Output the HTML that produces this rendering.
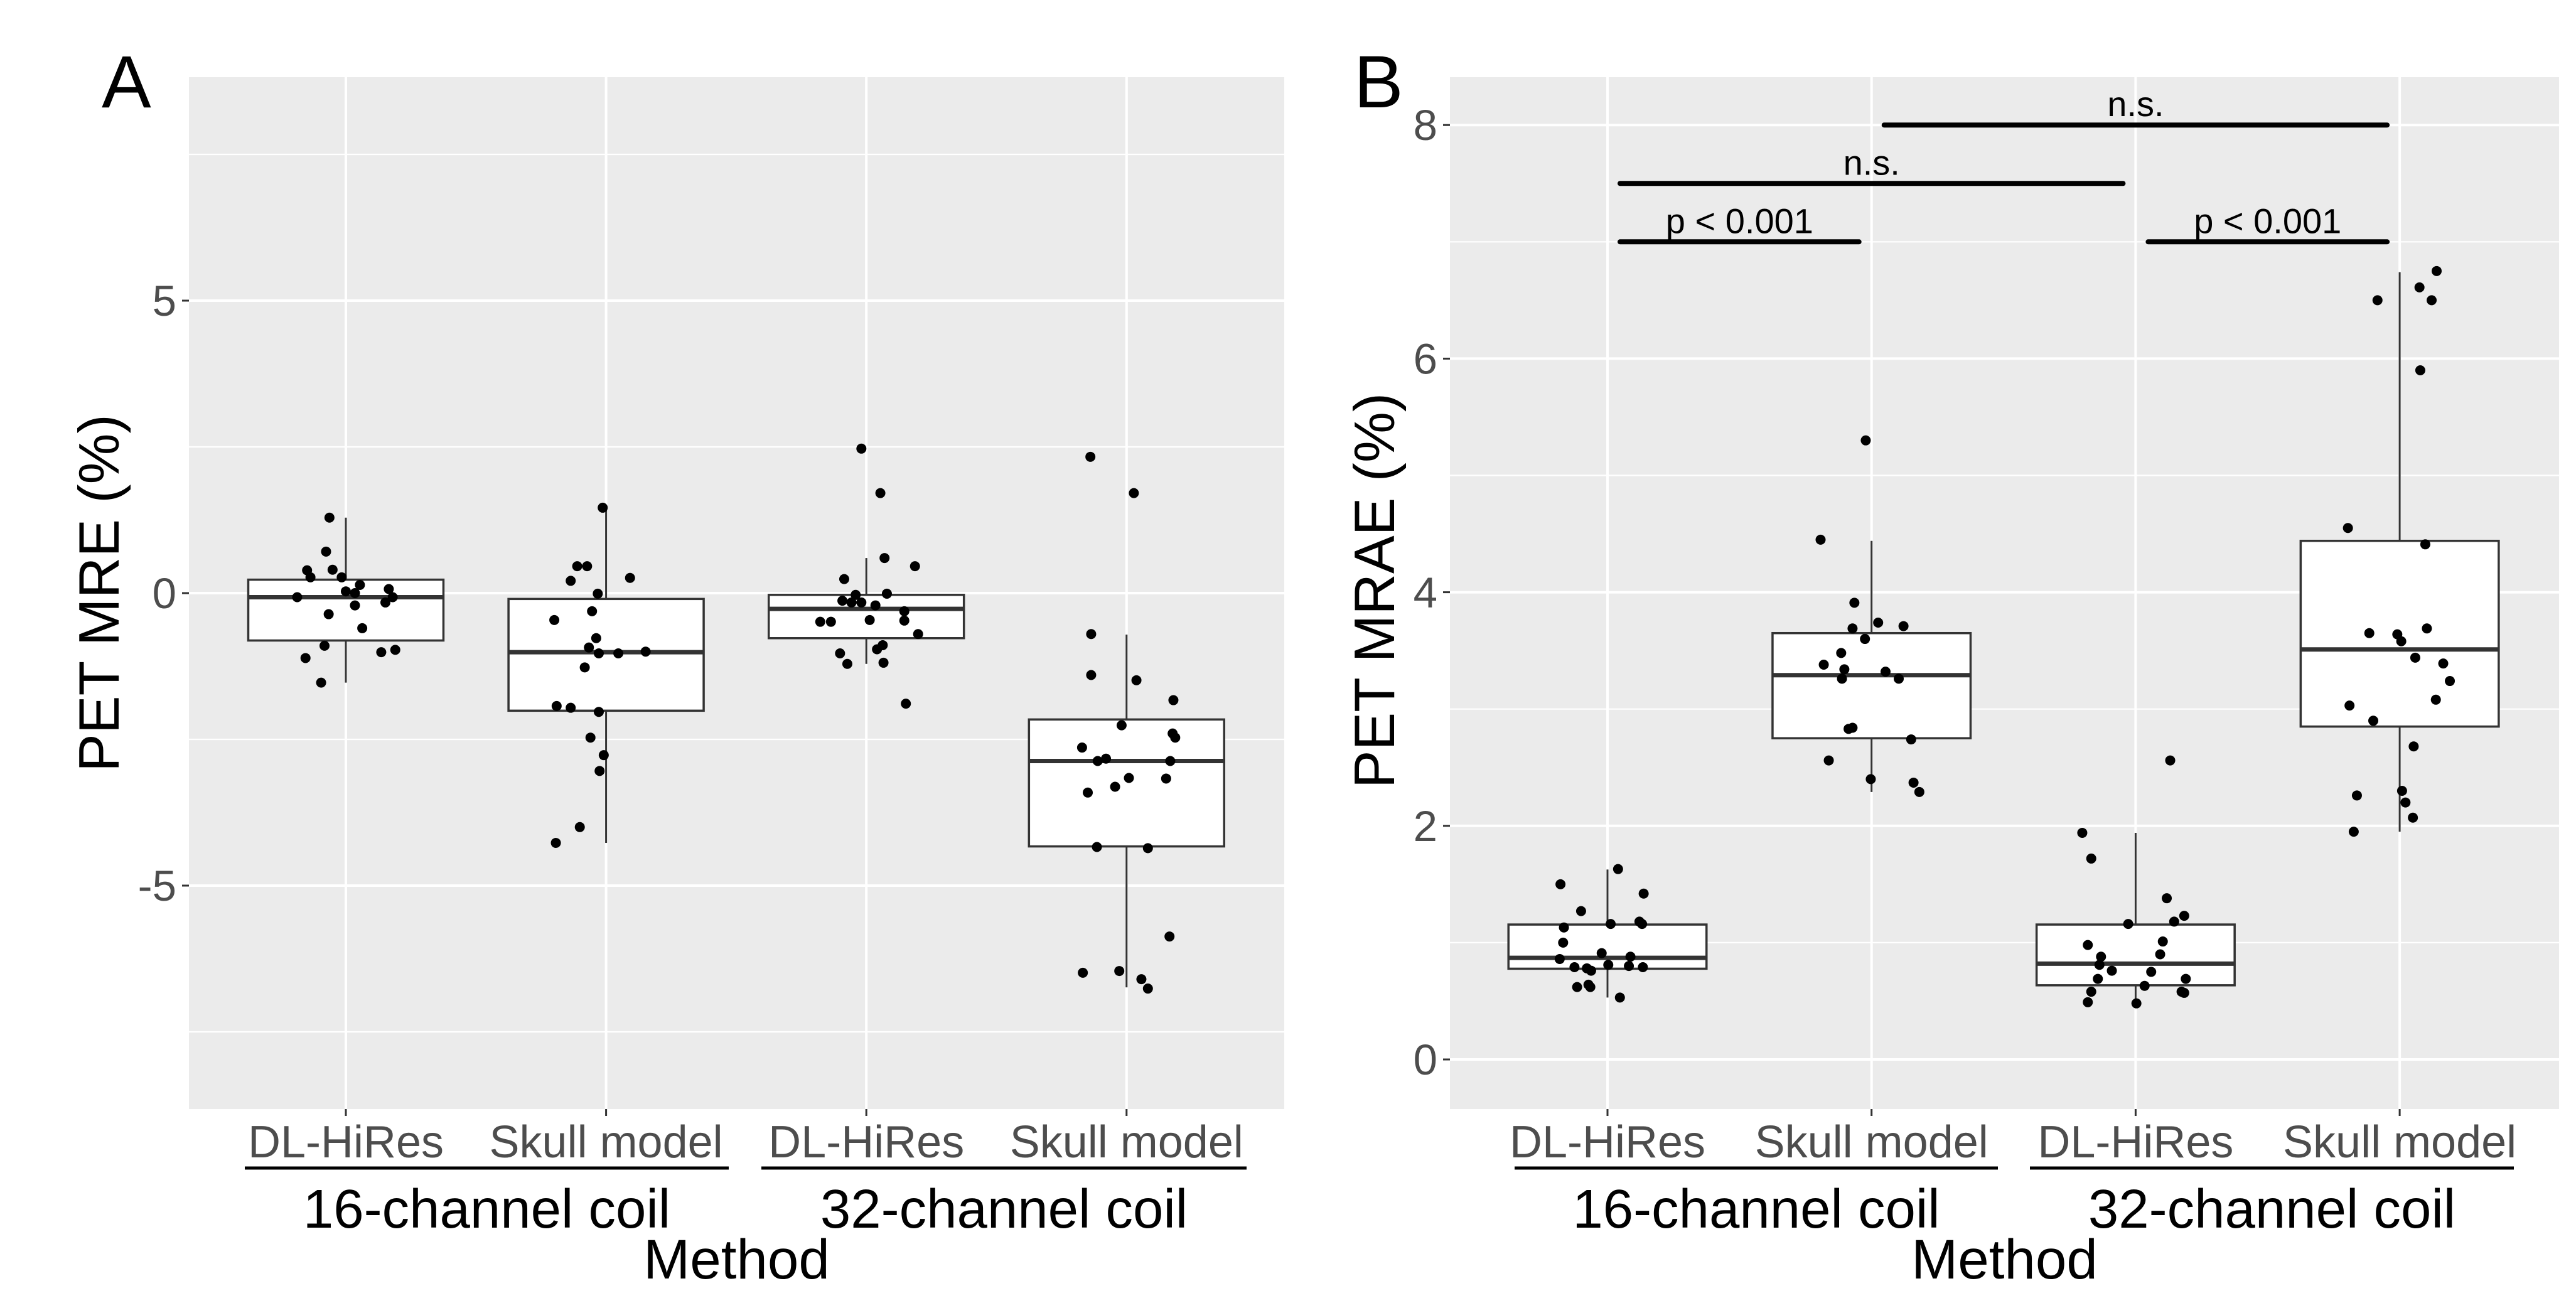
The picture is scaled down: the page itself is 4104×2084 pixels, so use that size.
<!DOCTYPE html>
<html><head><meta charset="utf-8">
<style>
html,body{margin:0;padding:0;background:#fff}
svg{display:block;font-family:"Liberation Sans",Arial,sans-serif}
</style></head>
<body>
<svg id="chart" width="4104" height="2084" viewBox="0 0 4104 2084" xmlns="http://www.w3.org/2000/svg">
<rect x="0" y="0" width="4104" height="2084" fill="#ffffff"/>
</svg>
<script>
// ---------- DATA ----------
const categories = ["DL-HiRes","Skull model","DL-HiRes","Skull model"];
const coilLabels = ["16-channel coil","32-channel coil"];
const ticksA = [-5,0,5];
const ticksB = [0,2,4,6,8];
// Panel A (PET MRE %)
const mreVals = [
 [1.29,0.71,0.39,0.27,0.40,0.27,0.14,0.03,0,0.07,-0.07,-0.16,-0.07,-0.21,-0.36,-0.60,-0.90,-1.11,-1.01,-0.97,-1.53],
 [1.46,0.46,0.46,0.21,0.26,-0.01,-0.46,-0.31,-0.77,-0.93,-1.03,-1.03,-1.0,-1.27,-1.93,-1.96,-2.03,-2.47,-2.77,-3.04,-4.0,-4.27],
 [2.47,1.71,0.6,0.46,0.24,-0.03,-0.01,-0.13,-0.16,-0.16,-0.21,-0.31,-0.49,-0.49,-0.46,-0.47,-0.7,-0.89,-0.96,-1.03,-1.21,-1.19,-1.89],
 [2.33,1.71,-0.70,-1.40,-1.49,-1.83,-2.26,-2.40,-2.47,-2.64,-2.83,-2.87,-2.87,-3.16,-3.17,-3.31,-3.41,-4.34,-4.36,-5.87,-6.49,-6.46,-6.6,-6.76]
];
const mreJitter = [
 [-0.063,-0.076,-0.149,-0.136,-0.051,-0.016,0.054,0,0.035,0.165,-0.187,0.152,0.180,0.035,-0.066,0.063,-0.082,-0.155,0.136,0.190,-0.095],
 [-0.013,-0.111,-0.073,-0.136,0.092,-0.032,-0.199,-0.054,-0.038,-0.066,-0.028,0.047,0.152,-0.082,-0.190,-0.136,-0.028,-0.060,-0.009,-0.025,-0.101,-0.193],
 [-0.019,0.054,0.070,0.187,-0.085,-0.041,0.079,-0.092,-0.057,-0.019,0.035,0.146,-0.177,-0.136,0.013,0.146,0.199,0.063,0.041,-0.101,-0.073,0.066,0.152],
 [-0.139,0.028,-0.136,-0.136,0.038,0.180,-0.019,0.177,0.187,-0.171,-0.079,-0.111,0.168,0.009,0.152,-0.044,-0.149,-0.114,0.082,0.165,-0.168,-0.028,0.057,0.082]
];
const mreQ1 = [-0.81,-2.01,-0.77,-4.33];
const mreMed = [-0.07,-1.01,-0.27,-2.87];
const mreQ3 = [0.23,-0.10,-0.03,-2.16];
const mreLo = [-1.53,-4.27,-1.21,-6.74];
const mreHi = [1.29,1.46,0.60,-0.71];
// Panel B (PET MRAE %)
const mraeVals = [
 [1.63,1.50,1.42,1.27,1.13,1.16,1.18,1.16,1.0,0.91,0.86,0.88,0.79,0.78,0.76,0.81,0.80,0.79,0.62,0.62,0.64,0.53],
 [5.30,4.45,3.91,3.69,3.74,3.71,3.60,3.48,3.38,3.34,3.32,3.26,3.26,2.84,2.83,2.74,2.56,2.40,2.37,2.29],
 [2.56,1.94,1.72,1.38,1.23,1.16,1.18,0.98,0.88,1.01,0.90,0.81,0.76,0.75,0.69,0.69,0.63,0.58,0.49,0.58,0.57,0.48],
 [6.75,6.61,6.50,6.50,5.90,4.55,4.41,3.65,3.64,3.69,3.58,3.44,3.39,3.24,3.03,3.08,2.90,2.68,2.30,2.26,2.20,2.07,1.95]
];
const mraeJitter = [
 [0.040,-0.178,0.137,-0.100,-0.165,0.012,0.121,0.131,-0.168,-0.022,-0.181,0.087,-0.125,-0.078,-0.062,0.003,0.081,0.134,-0.115,-0.065,-0.072,0.047],
 [-0.022,-0.193,-0.065,-0.072,0.025,0.121,-0.025,-0.115,-0.181,-0.103,0.053,-0.112,0.103,-0.072,-0.087,0.150,-0.162,-0.003,0.159,0.181],
 [0.131,-0.202,-0.168,0.118,0.184,-0.028,0.146,-0.181,-0.131,0.103,0.093,-0.137,-0.090,0.059,-0.143,0.190,0.034,-0.168,-0.181,0.174,0.184,0.003],
 [0.140,0.075,0.121,-0.084,0.078,-0.196,0.097,-0.115,-0.009,0.103,0.006,0.059,0.165,0.190,-0.190,0.137,-0.100,0.053,0.009,-0.162,0.022,0.050,-0.174]
];
const mraeQ1 = [0.777,2.75,0.635,2.85];
const mraeMed = [0.87,3.29,0.82,3.51];
const mraeQ3 = [1.155,3.65,1.155,4.44];
const mraeLo = [0.53,2.29,0.485,1.95];
const mraeHi = [1.626,4.44,1.94,6.74];
// significance brackets
const bracketFrom = [0,2,0,1];
const bracketTo = [1,3,2,3];
const bracketY = [7,7,7.5,8];
const bracketLabel = ["p < 0.001","p < 0.001","n.s.","n.s."];

// ---------- DRAW ----------
const NS = "http://www.w3.org/2000/svg";
const svg = document.getElementById("chart");
function mk(tag, attrs, parent, text){
  const e = document.createElementNS(NS, tag);
  for (const k in attrs) e.setAttribute(k, attrs[k]);
  if (text !== undefined) e.textContent = text;
  (parent || svg).appendChild(e);
  return e;
}

function panel(cfg){
  const g = mk("g", {});
  
  
  const xs = i => cfg.x0 + i * cfg.dx;
  const ys = v => cfg.y0 - v * cfg.ky;
  const bg = mk("rect", {x:cfg.left, y:cfg.top, width:cfg.right-cfg.left, height:cfg.bottom-cfg.top, fill:"#ebebeb"}, g);
  
  
  for (const t of cfg.minor){
    const l = mk("line", {x1:cfg.left, x2:cfg.right, y1:ys(t), y2:ys(t), stroke:"#fff", "stroke-width":2.2}, g);
    
    
  }
  for (const t of cfg.ticks){
    const l = mk("line", {x1:cfg.left, x2:cfg.right, y1:ys(t), y2:ys(t), stroke:"#fff", "stroke-width":4}, g);
    
    
    const tk = mk("line", {x1:cfg.left-11, x2:cfg.left, y1:ys(t), y2:ys(t), stroke:"#333", "stroke-width":3}, g);
    
    
    const tx = mk("text", {x:cfg.left-20, y:ys(t)+24, "text-anchor":"end", "font-size":69, fill:"#4d4d4d"}, g, String(t));
    
    
  }
  categories.forEach((c, i) => {
    const l = mk("line", {x1:xs(i), x2:xs(i), y1:cfg.top, y2:cfg.bottom, stroke:"#fff", "stroke-width":4}, g);
    
    
    const tk = mk("line", {x1:xs(i), x2:xs(i), y1:cfg.bottom, y2:cfg.bottom+11, stroke:"#333", "stroke-width":3}, g);
    
    
    const tx = mk("text", {x:xs(i), y:1844, "text-anchor":"middle", "font-size":72, fill:"#4d4d4d"}, g, c);
    
    
  });
  const hw = cfg.dx * 0.375;
  for (let i = 0; i < 4; i++){
    const bx = mk("g", {}, g);
    
    
    mk("line", {x1:xs(i), x2:xs(i), y1:ys(cfg.hi[i]), y2:ys(cfg.q3[i]), stroke:"#333", "stroke-width":3}, bx);
    mk("line", {x1:xs(i), x2:xs(i), y1:ys(cfg.q1[i]), y2:ys(cfg.lo[i]), stroke:"#333", "stroke-width":3}, bx);
    mk("rect", {x:xs(i)-hw, y:ys(cfg.q3[i]), width:2*hw, height:ys(cfg.q1[i])-ys(cfg.q3[i]), fill:"#fff", stroke:"#333", "stroke-width":3.5}, bx);
    mk("line", {x1:xs(i)-hw, x2:xs(i)+hw, y1:ys(cfg.med[i]), y2:ys(cfg.med[i]), stroke:"#333", "stroke-width":7}, bx);
  }
  cfg.vals.forEach((arr, i) => {
    arr.forEach((v, j) => {
      const p = mk("circle", {cx:xs(i + cfg.jit[i][j]), cy:ys(v), r:8, fill:"#000"}, g);
      
      
    });
  });
  const segs = cfg.underline;
  coilLabels.forEach((c, k) => {
    const l = mk("line", {x1:segs[k][0], x2:segs[k][1], y1:1861, y2:1861, stroke:"#000", "stroke-width":5}, g);
    
    
    const t = mk("text", {x:(segs[k][0]+segs[k][1])/2, y:1956, "text-anchor":"middle", "font-size":87, fill:"#000"}, g, c);
    
    
  });
  const xt = mk("text", {x:(cfg.left+cfg.right)/2, y:2037, "text-anchor":"middle", "font-size":89, fill:"#000"}, g, "Method");
  
  
  const yt = mk("text", {x:0, y:0, "text-anchor":"middle", "font-size":91, fill:"#000", transform:`translate(${cfg.ytx},${cfg.yty}) rotate(-90)`}, g, cfg.ytitle);
  
  
  const pl = mk("text", {x:cfg.labx, y:171, "font-size":118, fill:"#000"}, g, cfg.letter);
  
  
  return {xs, ys, g};
}

panel({name:"panel-a", left:301, right:2046, top:123, bottom:1767, x0:551, dx:414.6, y0:945, ky:93.2,
  ticks:ticksA, minor:[-7.5,-2.5,2.5,7.5], vals:mreVals, jit:mreJitter, q1:mreQ1, med:mreMed, q3:mreQ3, lo:mreLo, hi:mreHi,
  underline:[[390,1161],[1213,1986]], ytitle:"PET MRE (%)", ytx:189, yty:945, letter:"A", labx:162});

const pb = panel({name:"panel-b", left:2310, right:4077, top:123, bottom:1767, x0:2561, dx:420.7, y0:1688, ky:186.1,
  ticks:ticksB, minor:[1,3,5,7], vals:mraeVals, jit:mraeJitter, q1:mraeQ1, med:mraeMed, q3:mraeQ3, lo:mraeLo, hi:mraeHi,
  underline:[[2413,3183],[3234,4005]], ytitle:"PET MRAE (%)", ytx:2221, yty:941, letter:"B", labx:2157});

bracketY.forEach((yv, k) => {
  const x1 = pb.xs(bracketFrom[k]) + 20;
  const x2 = pb.xs(bracketTo[k]) - 20;
  const l = mk("line", {x1:x1, x2:x2, y1:pb.ys(yv), y2:pb.ys(yv), stroke:"#000", "stroke-width":8, "stroke-linecap":"round"});
  
  
  const t = mk("text", {x:(x1+x2)/2, y:pb.ys(yv)-14, "text-anchor":"middle", "font-size":56, fill:"#000"}, svg, bracketLabel[k]);
  
  
});
</script>
</body></html>
